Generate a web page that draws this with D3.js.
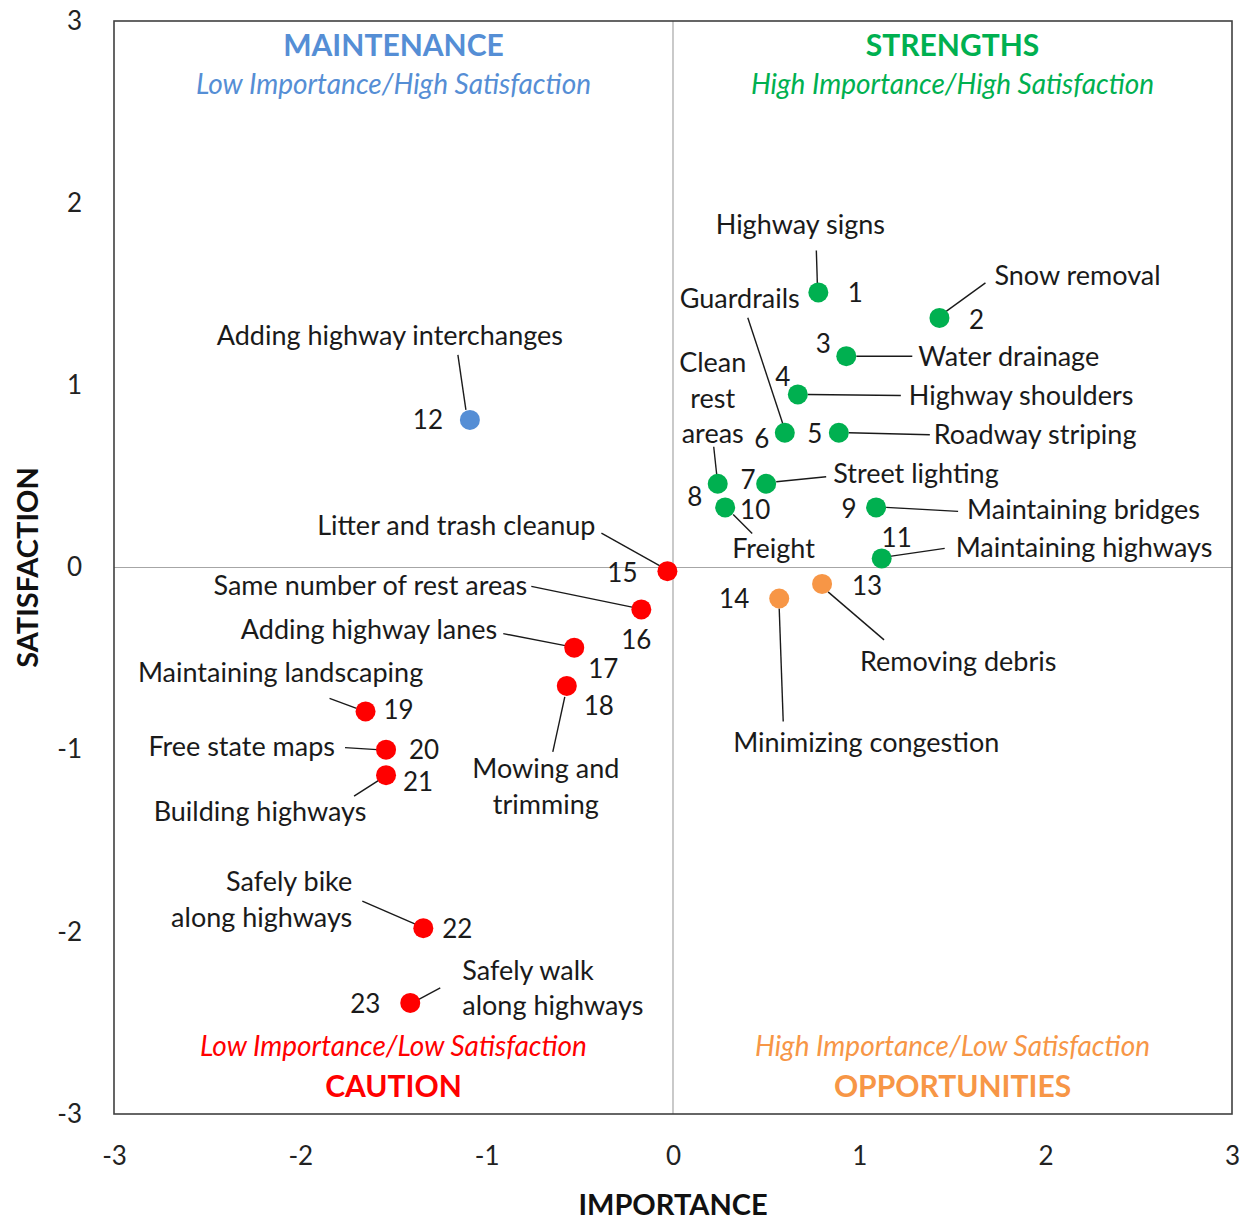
<!DOCTYPE html>
<html><head><meta charset="utf-8">
<script src="https://cdn.jsdelivr.net/npm/d3@7"></script>
<style>
html,body{margin:0;padding:0;background:#fff;}
text{font-family:Lato,"Noto Sans",sans-serif;}
</style></head>
<body><svg id="chart" width="1244" height="1221"></svg>
<script>
// ---- data ----
const ids = [1,2,3,4,5,6,7,8,9,10,11,12,13,14,15,16,17,18,19,20,21,22,23];
const names = [
  ["Highway signs"],["Snow removal"],["Water drainage"],["Highway shoulders"],["Roadway striping"],
  ["Guardrails"],["Street lighting"],["Clean","rest","areas"],["Maintaining bridges"],["Freight"],
  ["Maintaining highways"],["Adding highway interchanges"],["Removing debris"],["Minimizing congestion"],
  ["Litter and trash cleanup"],["Same number of rest areas"],["Adding highway lanes"],["Mowing and","trimming"],
  ["Maintaining landscaping"],["Free state maps"],["Building highways"],["Safely bike","along highways"],
  ["Safely walk","along highways"]
];
const importance   = [0.78,1.43,0.93,0.67,0.89,0.60,0.50,0.24,1.09,0.28,1.12,-1.09,0.80,0.57,-0.03,-0.17,-0.53,-0.57,-1.65,-1.54,-1.54,-1.34,-1.41];
const satisfaction = [1.51,1.37,1.16,0.95,0.74,0.74,0.46,0.46,0.33,0.33,0.05,0.81,-0.09,-0.17,-0.02,-0.23,-0.44,-0.65,-0.79,-1.00,-1.14,-1.98,-2.39];
const group = ["S","S","S","S","S","S","S","S","S","S","S","M","O","O","C","C","C","C","C","C","C","C","C"];
const xTicks = [-3,-2,-1,0,1,2,3];
const yTicks = [-3,-2,-1,0,1,2,3];
const quadrants = [
  {key:"M", title:"MAINTENANCE", sub:"Low Importance/High Satisfaction"},
  {key:"S", title:"STRENGTHS", sub:"High Importance/High Satisfaction"},
  {key:"C", title:"CAUTION", sub:"Low Importance/Low Satisfaction"},
  {key:"O", title:"OPPORTUNITIES", sub:"High Importance/Low Satisfaction"}
];

// ---- layout / style (label offsets in px relative to marker) ----
const colors = {S:"#00B050", M:"#558ED5", C:"#FF0000", O:"#F79646"};
// num:[dx,dy]; name:[dx,dy0,lineStep], anchor; lead:[x1,y1,x2,y2]
const labelLayout = [
  {num:[37,0],  name:[-18,-68,0], a:"middle", lead:[-2,-42,-1,-9]},
  {num:[37,2],  name:[55,-42,0],  a:"start",  lead:[46,-35,6,-6]},
  {num:[-23,-12],name:[72,0,0],   a:"start",  lead:[10,0,66,0]},
  {num:[-15,-18],name:[111,1,0],  a:"start",  lead:[10,0,103,1]},
  {num:[-24,1], name:[95,2,0],    a:"start",  lead:[10,0,91,2]},
  {num:[-23,6], name:[-105,-134,0],a:"start", lead:[-37,-115,-2,-9]},
  {num:[-18,-4],name:[67,-10,0],  a:"start",  lead:[10,-2,60,-7]},
  {num:[-23,13],name:[-5,-121,35.5],a:"middle",lead:[-4,-37,-1,-9]},
  {num:[-27,2], name:[91,2,0],    a:"start",  lead:[10,0,82,4]},
  {num:[30,3],  name:[7,41,0],    a:"start",  lead:[8,7,27,26]},
  {num:[15,-20],name:[74,-11,0],  a:"start",  lead:[8,-2,63,-10]},
  {num:[-42,0], name:[-80,-84,0], a:"middle", lead:[-12,-65,-4,-10]},
  {num:[45,2],  name:[38,78,0],   a:"start",  lead:[6,8,62,56]},
  {num:[-45,0], name:[-46,144,0], a:"start",  lead:[0,10,4,123]},
  {num:[-45,2], name:[-72,-46,0], a:"end",    lead:[-66,-38,-7,-5]},
  {num:[-5,31], name:[-114,-24,0],a:"end",    lead:[-110,-23,-8,-2]},
  {num:[29,21], name:[-77,-18,0], a:"end",    lead:[-71,-14,-9,-2]},
  {num:[32,20], name:[-21,83,36], a:"middle", lead:[-2,11,-14,66]},
  {num:[33,-2], name:[-85,-39,0], a:"middle", lead:[-36,-13,-9,-3]},
  {num:[38,0],  name:[-51,-3,0],  a:"end",    lead:[-41,-2,-9,0]},
  {num:[32,7],  name:[-126,36,0], a:"middle", lead:[-32,21,-7,5]},
  {num:[34,1],  name:[-71,-47,36],a:"end",    lead:[-61,-27,-8,-4]},
  {num:[-45,1], name:[52,-32,35], a:"start",  lead:[2,0,30,-15]}
];

const svg = d3.select("#chart");
const L = 114, R = 1232, T = 21, B = 1114;
const x = d3.scaleLinear().domain([-3,3]).range([L,R]);
const y = d3.scaleLinear().domain([-3,3]).range([B,T]);

svg.append("rect").attr("width",1244).attr("height",1221).attr("fill","#fff");

// quadrant lines
svg.append("line").attr("x1",x(0)).attr("x2",x(0)).attr("y1",T).attr("y2",B)
  .attr("stroke","#A6A6A6").attr("stroke-width",1.2);
svg.append("line").attr("x1",L).attr("x2",R).attr("y1",y(0)).attr("y2",y(0))
  .attr("stroke","#A6A6A6").attr("stroke-width",1.2);
// border
svg.append("rect").attr("x",L).attr("y",T).attr("width",R-L).attr("height",B-T)
  .attr("fill","none").attr("stroke","#404040").attr("stroke-width",1.6);

// axes (tick labels)
const fmt = d => String(d);
const xAxis = d3.axisBottom(x).tickValues(xTicks).tickSize(0).tickFormat(fmt);
const gx = svg.append("g").attr("transform",`translate(0,${B+30})`).call(xAxis);
gx.select(".domain").remove();
gx.selectAll("text").attr("font-size",26).attr("fill","#222").attr("font-family","Lato");
const yAxis = d3.axisLeft(y).tickValues(yTicks).tickSize(0).tickFormat(fmt);
const gy = svg.append("g").attr("transform",`translate(${L-29},0)`).call(yAxis);
gy.select(".domain").remove();
gy.selectAll("text").attr("font-size",26).attr("fill","#222").attr("font-family","Lato");

// axis titles
svg.append("text").attr("x",x(0)).attr("y",1205).attr("dy","0.35em").attr("text-anchor","middle")
  .attr("font-size",29).attr("font-weight","bold").attr("fill","#111").text("IMPORTANCE");
svg.append("text").attr("transform",`translate(28,${y(0)}) rotate(-90)`).attr("dy","0.35em")
  .attr("text-anchor","middle").attr("font-size",29).attr("font-weight","bold").attr("fill","#111").text("SATISFACTION");

// quadrant headings
const qpos = {M:[-1.5,"top"],S:[1.5,"top"],C:[-1.5,"bottom"],O:[1.5,"bottom"]};
quadrants.forEach(q=>{
  const cx = x(qpos[q.key][0]);
  const top = qpos[q.key][1]==="top";
  svg.append("text").attr("x",cx).attr("y",top?45:1086).attr("dy","0.35em").attr("text-anchor","middle")
    .attr("font-size",30).attr("font-weight","bold").attr("fill",colors[q.key]).text(q.title);
  svg.append("text").attr("x",cx).attr("y",top?84:1046).attr("dy","0.35em").attr("text-anchor","middle")
    .attr("font-size",28).attr("font-style","italic").attr("fill",colors[q.key]).text(q.sub);
});

// points + labels
const pts = ids.map((id,i)=>({id,name:names[i],x:importance[i],y:satisfaction[i],g:group[i],lay:labelLayout[i]}));
const gl = svg.append("g");
pts.forEach(p=>{
  const px = x(p.x), py = y(p.y), l = p.lay;
  gl.append("line").attr("x1",px+l.lead[0]).attr("y1",py+l.lead[1]).attr("x2",px+l.lead[2]).attr("y2",py+l.lead[3])
    .attr("stroke","#1a1a1a").attr("stroke-width",1.4);
});
svg.append("g").selectAll("circle").data(pts).join("circle")
  .attr("cx",d=>x(d.x)).attr("cy",d=>y(d.y)).attr("r",10).attr("fill",d=>colors[d.g]);
pts.forEach(p=>{
  const px = x(p.x), py = y(p.y), l = p.lay;
  gl.append("text").attr("x",px+l.num[0]).attr("y",py+l.num[1]).attr("dy","0.35em").attr("text-anchor","middle")
    .attr("font-size",26).attr("fill","#1a1a1a").text(p.id);
  p.name.forEach((line,k)=>{
    gl.append("text").attr("x",px+l.name[0]).attr("y",py+l.name[1]+k*l.name[2]).attr("dy","0.35em")
      .attr("text-anchor",l.a).attr("font-size",27).attr("fill","#1a1a1a").text(line);
  });
});
</script></body></html>
